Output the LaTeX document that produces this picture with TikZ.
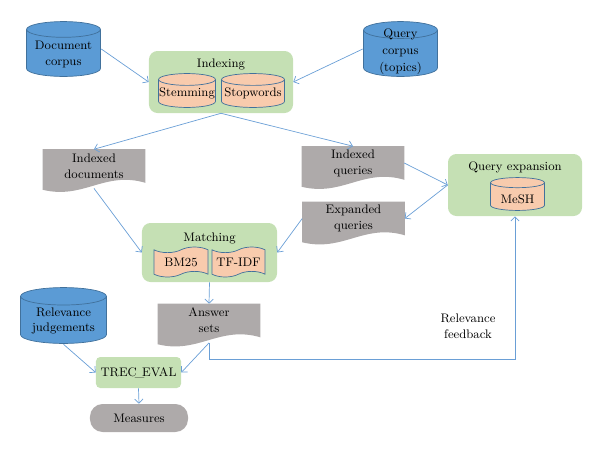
\documentclass[tikz,border=0pt]{standalone}
\usetikzlibrary{calc,shapes.symbols,arrows.meta,backgrounds}

\definecolor{drumblue}{HTML}{5B9BD5}
\definecolor{drumline}{HTML}{41719C}
\definecolor{peach}{HTML}{F8CBAD}
\definecolor{boxgreen}{HTML}{C5E0B4}
\definecolor{docgray}{HTML}{AEAAAA}
\definecolor{linkblue}{HTML}{6A9FD6}

\tikzset{
  every node/.style={font=\fontsize{8.8}{11.3}\selectfont, align=center, inner sep=1pt},
  % drum: fill colour, half height of the end ellipse
  drum/.style 2 args={rectangle, path picture={
    \draw[drumline, line width=0.5pt, fill=#1]
      let \p1=(path picture bounding box.north west), \p2=(path picture bounding box.south east),
          \n1={(\x2-\x1)/2-0.4pt} in
      (\x1+0.4pt,\y1-#2-0.4pt) -- (\x1+0.4pt,\y2+#2+0.4pt)
      arc[start angle=180, end angle=360, x radius=\n1, y radius=#2]
      -- (\x2-0.4pt,\y1-#2-0.4pt)
      arc[start angle=0, end angle=180, x radius=\n1, y radius=#2]
      arc[start angle=180, end angle=360, x radius=\n1, y radius=#2];}},
  corpus/.style={drum={drumblue}{#1}},
  store/.style={drum={peach}{#1}},
  stage/.style={rectangle, rounded corners=6pt, fill=boxgreen},
  weight/.style={tape, tape bend height=4pt, draw=drumline, fill=peach, line width=0.5pt},
  paper/.style={rectangle, minimum width=2.55cm, minimum height=0.825cm,
    append after command={\pgfextra{\begin{pgfonlayer}{background}
      \fill[docgray] (\tikzlastnode.north west) -- (\tikzlastnode.north east) -- (\tikzlastnode.south east)
        .. controls +(-1.02cm,0.3cm) and +(1.02cm,-0.25cm) .. ([yshift=-0.175cm]\tikzlastnode.south west) -- cycle;
    \end{pgfonlayer}}}},
  link/.style={draw=linkblue, line width=0.5pt, -{Straight Barb[length=3pt,width=6pt]}}
}

\begin{document}
\begin{tikzpicture}[x=0.25mm, y=-0.25mm]
\useasboundingbox (0,0) rectangle (600,453);
%sources
\node[corpus=5.6pt, minimum width=1.875cm, minimum height=1.4cm,
  label={[yshift=-3.9pt]center:Document\\corpus}] (doc) at (63.5,49) {};
\node[corpus=6pt, minimum width=1.875cm, minimum height=1.4cm,
  label={[yshift=-2.1pt, font=\fontsize{8.8}{12}\selectfont]center:Query\\corpus\\(topics)}] (qry) at (400.5,49) {};
%indexing
\node[stage, minimum width=3.6cm, minimum height=1.55cm] (index) at (221,82) {};
\node (indexlbl) at (221,64) {Indexing};
\node[store=4.2pt, minimum width=1.45cm, minimum height=0.875cm, label={[yshift=-1.8pt]center:Stemming}] (stem) at (187,90.5) {};
\node[store=4.2pt, minimum width=1.6cm, minimum height=0.875cm, label={[yshift=-1.8pt]center:Stopwords}] (stop) at (253,90.5) {};
%indexed files
\node[paper] (idoc) at (94,166) {Indexed\\documents};
\node[paper] (iqry) at (353,163) {Indexed\\queries};
\node[paper] (eqry) at (353.5,218.5) {Expanded\\queries};
%query expansion
\node[stage, minimum width=3.35cm, minimum height=1.55cm] (qexp) at (515,185) {};
\node (qexplbl) at (515,167) {Query expansion};
\node[store=3.6pt, minimum width=1.375cm, minimum height=0.85cm, label={[yshift=-3.5pt]center:MeSH}] (mesh) at (517.5,194) {};
%matching
\node[stage, minimum width=3.375cm, minimum height=1.475cm] (match) at (209.5,252.5) {};
\node (matchlbl) at (209.5,238) {Matching};
\node[weight, minimum width=1.35cm, minimum height=0.75cm] (bm) at (181,262) {BM25};
\node[weight, minimum width=1.325cm, minimum height=0.75cm] (tfidf) at (238.5,262) {TF-IDF};
%evaluation
\node[paper] (ans) at (209,320.5) {Answer\\sets};
\node[corpus=6.2pt, minimum width=2.175cm, minimum height=1.425cm,
  label={[yshift=-3.9pt]center:Relevance\\judgements}] (relj) at (63.5,315.5) {};
\node[stage, rounded corners=3pt, minimum width=2.125cm, minimum height=0.775cm] (trec) at (138.5,372.5) {TREC\kern-1.5pt\_\kern-1.5pt EVAL};
\node[rectangle, rounded corners=9pt, fill=docgray, minimum width=2.45cm, minimum height=0.7cm] (meas) at (139,418) {Measures};
\node (fblbl) at (468,326) {Relevance\\feedback};
%links
\draw[link] (doc.east) -- (index.west);
\draw[link] (qry.west) -- (index.east);
\draw[link] (index.south) -- (idoc.north);
\draw[link] (index.south) -- (iqry.north);
\draw[link] ([yshift=-4pt]idoc.south) -- (match.west);
\draw[link] (iqry.east) -- (qexp.west);
\draw[link] (qexp.west) -- (eqry.east);
\draw[link] (eqry.west) -- (match.east);
\draw[link] (match.south) -- (ans.north);
\draw[link] ([yshift=-4pt]ans.south) -- (trec.east);
\draw[link] (relj.south) -- (trec.west);
\draw[link] (trec.south) -- (meas.north);
\draw[link] ([yshift=-4pt]ans.south) -- ++(0,16.5) -| (qexp.south);
\end{tikzpicture}
\end{document}
